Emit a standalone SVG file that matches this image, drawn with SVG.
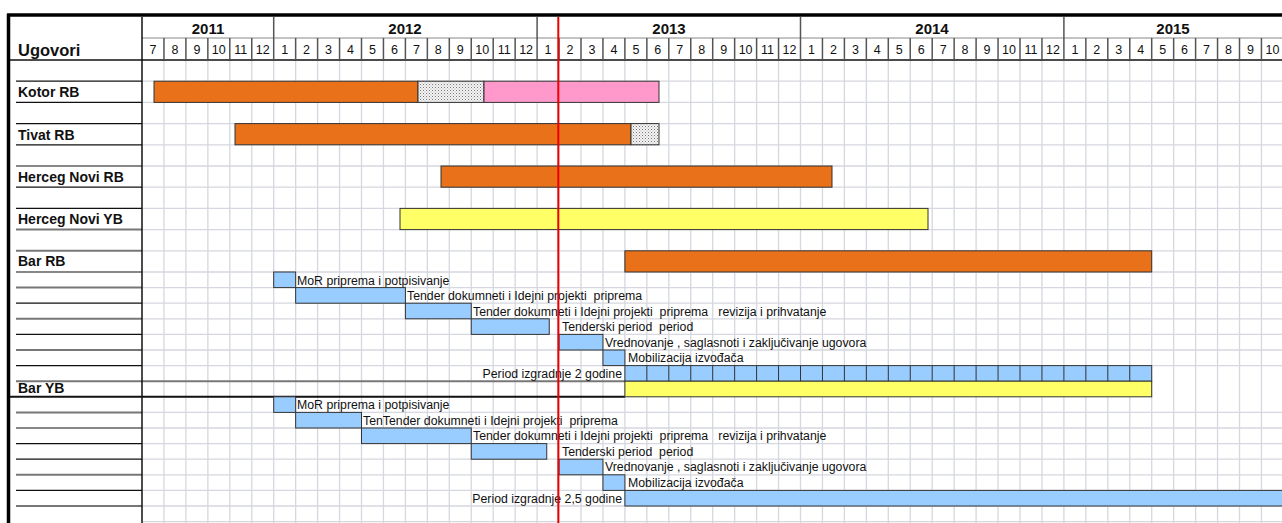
<svg xmlns="http://www.w3.org/2000/svg" width="1282" height="523" viewBox="0 0 1282 523">
<style>
text{font-family:"Liberation Sans",Arial,sans-serif;fill:#111}
.yr{font-size:15px;font-weight:bold;text-anchor:middle}
.mo{font-size:12.5px;text-anchor:middle}
.lbl{font-size:14px;font-weight:bold}
.hd{font-size:16.5px;font-weight:bold}
.task{font-size:12.3px;white-space:pre}
.grid{stroke:#d5d8e0;stroke-width:1.3;fill:none}
.hdr{stroke:#555;stroke-width:1.5;fill:none}
.lk{stroke:#111;stroke-width:1.2}
.lg{stroke:#777;stroke-width:2}
.bar{stroke:#333;stroke-width:1}
.or{fill:#E8711A}
.pk{fill:#FF99CC}
.ye{fill:#FFFF66}
.bl{fill:#99CCFF}
.dt{fill:url(#dots)}
</style>
<defs>
<pattern id="dots" width="3" height="3" patternUnits="userSpaceOnUse">
<rect width="3" height="3" fill="#f4f4f4"/>
<rect x="0" y="0" width="1" height="1" fill="#777"/>
<rect x="1.5" y="1.5" width="1" height="1" fill="#aaa"/>
</pattern>
</defs>
<rect width="1282" height="523" fill="#fff"/>

<g id="grid">
<path class="grid" d="M163.95 60V523M185.9 60V523M207.85 60V523M229.8 60V523M251.75 60V523M273.7 60V523M295.65 60V523M317.6 60V523M339.55 60V523M361.5 60V523M383.45 60V523M405.4 60V523M427.35 60V523M449.3 60V523M471.25 60V523M493.2 60V523M515.15 60V523M537.1 60V523M559.05 60V523M581 60V523M602.95 60V523M624.9 60V523M646.85 60V523M668.8 60V523M690.75 60V523M712.7 60V523M734.65 60V523M756.6 60V523M778.55 60V523M800.5 60V523M822.45 60V523M844.4 60V523M866.35 60V523M888.3 60V523M910.25 60V523M932.2 60V523M954.15 60V523M976.1 60V523M998.05 60V523M1020 60V523M1041.95 60V523M1063.9 60V523M1085.85 60V523M1107.8 60V523M1129.75 60V523M1151.7 60V523M1173.65 60V523M1195.6 60V523M1217.55 60V523M1239.5 60V523M1261.45 60V523"/>
<path class="grid" d="M142 81.2H1282M142 102.4H1282M142 123.6H1282M142 144.8H1282M142 166H1282M142 187.2H1282M142 208.4H1282M142 229.6H1282M142 250.8H1282M142 272H1282M142 287.6H1282M142 303.2H1282M142 318.8H1282M142 334.4H1282M142 350H1282M142 365.6H1282M142 412.4H1282M142 428H1282M142 443.6H1282M142 459.2H1282M142 474.8H1282M142 490.4H1282M142 506H1282M142 521.6H1282"/>
</g>

<g id="header">
<line x1="142" y1="38" x2="1282" y2="38" stroke="#888" stroke-width="1"/>
<line x1="10" y1="60" x2="1282" y2="60" stroke="#111" stroke-width="1.5"/>
<path class="hdr" d="M273.7 17V60M537.1 17V60M800.5 17V60M1063.9 17V60"/>
<path class="hdr" d="M163.95 38V60M185.9 38V60M207.85 38V60M229.8 38V60M251.75 38V60M295.65 38V60M317.6 38V60M339.55 38V60M361.5 38V60M383.45 38V60M405.4 38V60M427.35 38V60M449.3 38V60M471.25 38V60M493.2 38V60M515.15 38V60M559.05 38V60M581 38V60M602.95 38V60M624.9 38V60M646.85 38V60M668.8 38V60M690.75 38V60M712.7 38V60M734.65 38V60M756.6 38V60M778.55 38V60M822.45 38V60M844.4 38V60M866.35 38V60M888.3 38V60M910.25 38V60M932.2 38V60M954.15 38V60M976.1 38V60M998.05 38V60M1020 38V60M1041.95 38V60M1085.85 38V60M1107.8 38V60M1129.75 38V60M1151.7 38V60M1173.65 38V60M1195.6 38V60M1217.55 38V60M1239.5 38V60M1261.45 38V60"/>
<text class="yr" x="208" y="34">2011</text>
<text class="yr" x="405" y="34">2012</text>
<text class="yr" x="669" y="34">2013</text>
<text class="yr" x="932" y="34">2014</text>
<text class="yr" x="1173" y="34">2015</text>
<text class="hd" x="18" y="56">Ugovori</text>
<g class="mo">
<text class="mo" x="153" y="54">7</text><text class="mo" x="174.9" y="54">8</text><text class="mo" x="196.9" y="54">9</text><text class="mo" x="218.8" y="54">10</text><text class="mo" x="240.8" y="54">11</text><text class="mo" x="262.7" y="54">12</text>
<text class="mo" x="284.7" y="54">1</text><text class="mo" x="306.6" y="54">2</text><text class="mo" x="328.6" y="54">3</text><text class="mo" x="350.5" y="54">4</text><text class="mo" x="372.5" y="54">5</text><text class="mo" x="394.4" y="54">6</text><text class="mo" x="416.4" y="54">7</text><text class="mo" x="438.3" y="54">8</text><text class="mo" x="460.3" y="54">9</text><text class="mo" x="482.2" y="54">10</text><text class="mo" x="504.2" y="54">11</text><text class="mo" x="526.1" y="54">12</text>
<text class="mo" x="548.1" y="54">1</text><text class="mo" x="570" y="54">2</text><text class="mo" x="592" y="54">3</text><text class="mo" x="613.9" y="54">4</text><text class="mo" x="635.9" y="54">5</text><text class="mo" x="657.8" y="54">6</text><text class="mo" x="679.8" y="54">7</text><text class="mo" x="701.7" y="54">8</text><text class="mo" x="723.7" y="54">9</text><text class="mo" x="745.6" y="54">10</text><text class="mo" x="767.6" y="54">11</text><text class="mo" x="789.5" y="54">12</text>
<text class="mo" x="811.5" y="54">1</text><text class="mo" x="833.4" y="54">2</text><text class="mo" x="855.4" y="54">3</text><text class="mo" x="877.3" y="54">4</text><text class="mo" x="899.3" y="54">5</text><text class="mo" x="921.2" y="54">6</text><text class="mo" x="943.2" y="54">7</text><text class="mo" x="965.1" y="54">8</text><text class="mo" x="987.1" y="54">9</text><text class="mo" x="1009" y="54">10</text><text class="mo" x="1031" y="54">11</text><text class="mo" x="1052.9" y="54">12</text>
<text class="mo" x="1074.9" y="54">1</text><text class="mo" x="1096.8" y="54">2</text><text class="mo" x="1118.8" y="54">3</text><text class="mo" x="1140.7" y="54">4</text><text class="mo" x="1162.7" y="54">5</text><text class="mo" x="1184.6" y="54">6</text><text class="mo" x="1206.6" y="54">7</text><text class="mo" x="1228.5" y="54">8</text><text class="mo" x="1250.5" y="54">9</text><text class="mo" x="1272.4" y="54">10</text>
</g>
</g>

<g id="label-column">
<line class="lk" x1="16" y1="81.2" x2="142" y2="81.2"/>
<line class="lk" x1="16" y1="102.4" x2="142" y2="102.4"/>
<line class="lk" x1="16" y1="123.6" x2="142" y2="123.6"/>
<line class="lk" x1="16" y1="144.8" x2="142" y2="144.8"/>
<line class="lk" x1="16" y1="166" x2="142" y2="166"/>
<line class="lk" x1="16" y1="187.2" x2="142" y2="187.2"/>
<line class="lk" x1="16" y1="208.4" x2="142" y2="208.4"/>
<line class="lg" x1="16" y1="229.6" x2="142" y2="229.6"/>
<line class="lg" x1="16" y1="250.8" x2="142" y2="250.8"/>
<line class="lk" x1="16" y1="272" x2="142" y2="272"/>
<line class="lg" x1="16" y1="287.6" x2="142" y2="287.6"/>
<line class="lk" x1="16" y1="303.2" x2="142" y2="303.2"/>
<line class="lg" x1="16" y1="318.8" x2="142" y2="318.8"/>
<line class="lk" x1="16" y1="334.4" x2="142" y2="334.4"/>
<line class="lg" x1="16" y1="350" x2="142" y2="350"/>
<line class="lk" x1="16" y1="365.6" x2="142" y2="365.6"/>
<line class="lg" x1="16" y1="381.2" x2="625" y2="381.2"/>
<line x1="10" y1="396.8" x2="625" y2="396.8" stroke="#111" stroke-width="2"/>
<line class="lg" x1="16" y1="412.4" x2="142" y2="412.4"/>
<line class="lk" x1="16" y1="428" x2="142" y2="428"/>
<line class="lk" x1="16" y1="443.6" x2="142" y2="443.6"/>
<line class="lk" x1="16" y1="459.2" x2="142" y2="459.2"/>
<line class="lg" x1="16" y1="474.8" x2="142" y2="474.8"/>
<line class="lk" x1="16" y1="490.4" x2="142" y2="490.4"/>
<line class="lg" x1="16" y1="506" x2="142" y2="506"/>
<line x1="142" y1="17" x2="142" y2="523" stroke="#111" stroke-width="1.5"/>
</g>

<g id="kotor-rb">
<text class="lbl" x="18" y="97">Kotor RB</text>
<rect class="bar or" x="154" y="81.2" width="264" height="21.2"/>
<rect class="bar dt" x="418" y="81.2" width="66" height="21.2"/>
<rect class="bar pk" x="484" y="81.2" width="175" height="21.2"/>
</g>
<g id="tivat-rb">
<text class="lbl" x="18" y="139.5">Tivat RB</text>
<rect class="bar or" x="235" y="123.6" width="396" height="21.2"/>
<rect class="bar dt" x="631" y="123.6" width="28" height="21.2"/>
</g>
<g id="herceg-novi-rb">
<text class="lbl" x="18" y="181.5">Herceg Novi RB</text>
<rect class="bar or" x="441" y="166" width="391" height="21.2"/>
</g>
<g id="herceg-novi-yb">
<text class="lbl" x="18" y="224">Herceg Novi YB</text>
<rect class="bar ye" x="400" y="208.4" width="528" height="21.2"/>
</g>
<g id="bar-rb">
<text class="lbl" x="18" y="266">Bar RB</text>
<rect class="bar or" x="624.9" y="250.8" width="526.8" height="21.2"/>
</g>

<g id="bar-rb-tasks">
<rect class="bar bl" x="273.7" y="272" width="21.95" height="15.6"/>
<text class="task" x="297" y="284.5">MoR priprema i potpisivanje</text>
<rect class="bar bl" x="295.65" y="287.6" width="109.75" height="15.6"/>
<text class="task" x="407" y="300">Tender dokumneti i Idejni projekti  priprema</text>
<rect class="bar bl" x="405.4" y="303.2" width="65.85" height="15.6"/>
<text class="task" x="473" y="315.5">Tender dokumneti i Idejni projekti  priprema   revizija i prihvatanje</text>
<rect class="bar bl" x="471.25" y="318.8" width="78" height="15.6"/>
<text class="task" x="562" y="331">Tenderski period  period</text>
<rect class="bar bl" x="559.05" y="334.4" width="43.9" height="15.6"/>
<text class="task" x="605" y="346.5">Vrednovanje , saglasnoti i zaključivanje ugovora</text>
<rect class="bar bl" x="602.95" y="350" width="21.95" height="15.6"/>
<text class="task" x="628" y="362">Mobilizacija izvođača</text>
<text class="task" x="622" y="377.5" text-anchor="end">Period izgradnje 2 godine</text>
<rect class="bar bl" x="624.9" y="365.6" width="526.8" height="15.6"/>
<path stroke="#333" stroke-width="1" d="M646.85 365.6V381.2M668.8 365.6V381.2M690.75 365.6V381.2M712.7 365.6V381.2M734.65 365.6V381.2M756.6 365.6V381.2M778.55 365.6V381.2M800.5 365.6V381.2M822.45 365.6V381.2M844.4 365.6V381.2M866.35 365.6V381.2M888.3 365.6V381.2M910.25 365.6V381.2M932.2 365.6V381.2M954.15 365.6V381.2M976.1 365.6V381.2M998.05 365.6V381.2M1020 365.6V381.2M1041.95 365.6V381.2M1063.9 365.6V381.2M1085.85 365.6V381.2M1107.8 365.6V381.2M1129.75 365.6V381.2"/>
</g>

<g id="bar-yb">
<text class="lbl" x="18" y="393">Bar YB</text>
<rect class="bar ye" x="624.9" y="381.2" width="526.8" height="15.6"/>
</g>

<g id="bar-yb-tasks">
<rect class="bar bl" x="273.7" y="396.8" width="21.95" height="15.6"/>
<text class="task" x="297" y="409">MoR priprema i potpisivanje</text>
<rect class="bar bl" x="295.65" y="412.4" width="65.85" height="15.6"/>
<text class="task" x="363" y="424.5">TenTender dokumneti i Idejni projekti  priprema</text>
<rect class="bar bl" x="361.5" y="428" width="109.75" height="15.6"/>
<text class="task" x="473" y="440">Tender dokumneti i Idejni projekti  priprema   revizija i prihvatanje</text>
<rect class="bar bl" x="471.25" y="443.6" width="75.5" height="15.6"/>
<text class="task" x="562" y="455.5">Tenderski period  period</text>
<rect class="bar bl" x="559.05" y="459.2" width="43.9" height="15.6"/>
<text class="task" x="605" y="471">Vrednovanje , saglasnoti i zaključivanje ugovora</text>
<rect class="bar bl" x="602.95" y="474.8" width="21.95" height="15.6"/>
<text class="task" x="628" y="487">Mobilizacija izvođača</text>
<text class="task" x="622" y="502.5" text-anchor="end">Period izgradnje 2,5 godine</text>
<rect class="bar bl" x="624.9" y="490.4" width="670" height="15.6"/>
</g>

<g id="today-line">
<line x1="558.3" y1="17" x2="558.3" y2="523" stroke="#e00" stroke-width="2"/>
</g>

<g id="frame">
<line x1="7" y1="15" x2="1282" y2="15" stroke="#000" stroke-width="3.5"/>
<line x1="8.5" y1="14" x2="8.5" y2="523" stroke="#000" stroke-width="3.5"/>
</g>
</svg>
